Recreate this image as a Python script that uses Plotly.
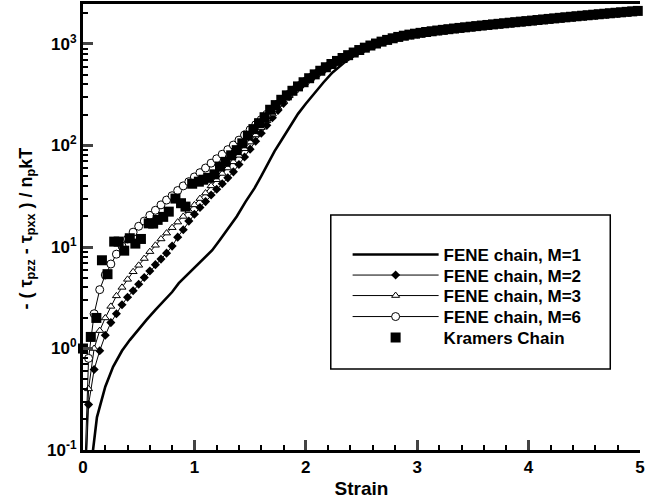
import plotly.graph_objects as go

# ---------------- data ----------------
strain_grid = [round(0.05 * i, 2) for i in range(101)]

fene_m2 = [
    0.01, 0.28, 0.62, 0.95, 1.35, 1.8, 2.2, 2.7, 3.2, 3.7,
    4.3, 5.0, 5.8, 6.7, 7.6, 8.7, 10.2, 12.5, 14.8, 18.0,
    21, 24.5, 28, 32.5, 37, 42, 48, 55, 65, 77,
    92, 110, 132, 158, 188, 222, 260, 302, 346, 392,
    438, 482, 527, 572, 617, 662, 707, 752, 797, 842,
    886, 930, 973, 1015, 1056, 1096, 1134, 1170, 1202, 1231,
    1255, 1279, 1302, 1324, 1345, 1366, 1387, 1407, 1427, 1447,
    1467, 1487, 1507, 1527, 1546, 1565, 1585, 1605, 1624, 1643,
    1662, 1684, 1706, 1728, 1750, 1772, 1794, 1816, 1838, 1860,
    1882, 1904, 1926, 1948, 1970, 1992, 2014, 2036, 2058, 2080,
    2100,
]

fene_m3 = [
    0.01, 0.4, 1.0, 1.5, 2.0, 2.6, 3.3, 4.0, 4.8, 5.7,
    6.6, 7.7, 9.0, 10.4, 12.0, 13.7, 15.5, 17.6, 20.0, 22.8,
    26, 30, 34, 40, 46, 53, 60, 69, 80, 93,
    108, 127, 150, 175, 204, 236, 272, 310, 350, 392,
    435, 478, 522, 566, 610, 655, 700, 746, 792, 838,
    884, 928, 972, 1015, 1057, 1098, 1138, 1174, 1206, 1235,
    1260, 1284, 1307, 1329, 1350, 1371, 1392, 1412, 1432, 1452,
    1472, 1492, 1512, 1532, 1552, 1572, 1592, 1612, 1631, 1650,
    1670, 1692, 1714, 1736, 1758, 1780, 1802, 1824, 1846, 1868,
    1890, 1912, 1934, 1956, 1978, 2000, 2022, 2044, 2066, 2088,
    2110,
]

fene_m6 = [
    0.02, 0.8, 2.2, 3.8, 5.3, 6.8, 8.5, 10.2, 12.0, 14.0,
    16.0, 18.0, 20.5, 23, 26, 29, 32, 36, 40, 44,
    49, 54, 60, 67, 74, 82, 91, 101, 113, 127,
    143, 160, 180, 203, 228, 256, 287, 320, 355, 392,
    430, 470, 512, 555, 600, 645, 692, 740, 788, 836,
    884, 930, 975, 1020, 1062, 1105, 1145, 1180, 1212, 1240,
    1265, 1290, 1313, 1335, 1357, 1378, 1399, 1420, 1440, 1460,
    1480, 1500, 1520, 1540, 1560, 1580, 1600, 1620, 1640, 1660,
    1680, 1702, 1724, 1746, 1768, 1790, 1812, 1834, 1856, 1878,
    1900, 1922, 1944, 1966, 1988, 2010, 2032, 2054, 2076, 2098,
    2120,
]

fene_m1_strain = [
    0.07, 0.09, 0.125, 0.2, 0.27, 0.35, 0.42, 0.5, 0.57, 0.65,
    0.72, 0.8, 0.86, 0.95, 1.04, 1.1, 1.16, 1.23, 1.3, 1.38,
    1.46, 1.54, 1.6, 1.66, 1.72, 1.78, 1.85, 1.93, 2.0, 2.08,
    2.16, 2.24, 2.34, 2.45, 2.6, 2.8, 3.0, 3.25, 3.5, 3.75,
    4.0, 4.25, 4.5, 4.75, 5.0,
]
fene_m1 = [
    0.05, 0.1, 0.21, 0.42, 0.66, 0.95, 1.21, 1.55, 1.91, 2.4,
    2.89, 3.6, 4.4, 5.5, 6.8, 7.9, 9.3, 11.8, 15.0, 20,
    28, 38, 50, 66, 88, 112, 148, 205, 258, 330,
    420, 525, 650, 790, 960, 1130, 1260, 1380, 1480, 1580,
    1680, 1790, 1900, 2010, 2120,
]

kramers_strain = [
    0.0, 0.07, 0.12, 0.17, 0.22, 0.28, 0.32, 0.37, 0.42, 0.47,
    0.52, 0.59, 0.63, 0.67, 0.72, 0.77, 0.83, 0.88, 0.92, 0.98,
    1.04, 1.08, 1.13, 1.18, 1.23, 1.28, 1.33, 1.38, 1.43, 1.48,
    1.53, 1.58, 1.63, 1.68, 1.73, 1.78, 1.83, 1.88, 1.93, 1.98,
    2.03, 2.08, 2.13, 2.18, 2.23, 2.28, 2.33, 2.38, 2.43, 2.48,
    2.53, 2.58, 2.63, 2.68, 2.73, 2.78, 2.83, 2.88, 2.93, 2.98,
    3.03, 3.08, 3.13, 3.18, 3.23, 3.28, 3.33, 3.38, 3.43, 3.48,
    3.53, 3.58, 3.63, 3.68, 3.73, 3.78, 3.83, 3.88, 3.93, 3.98,
    4.03, 4.08, 4.13, 4.18, 4.23, 4.28, 4.33, 4.38, 4.43, 4.48,
    4.53, 4.58, 4.63, 4.68, 4.73, 4.78, 4.83, 4.88, 4.93, 4.98,
]
kramers = [
    1.0, 1.3, 2.0, 7.4, 5.4, 11.3, 11.3, 9.2, 12.2, 10.8,
    12.0, 17.1, 17.0, 18.5, 19.8, 22.3, 30, 27, 25, 42,
    44, 46, 48, 52, 62, 69, 80, 90, 105, 125,
    145, 166, 190, 225, 250, 282, 312, 346, 382, 420,
    460, 502, 545, 590, 635, 681, 728, 776, 824, 872,
    920, 966, 1011, 1055, 1097, 1138, 1174, 1207, 1237, 1263,
    1288, 1312, 1335, 1357, 1378, 1399, 1420, 1440, 1460, 1480,
    1500, 1520, 1540, 1560, 1580, 1600, 1620, 1640, 1660, 1680,
    1700, 1722, 1744, 1766, 1788, 1810, 1832, 1854, 1876, 1898,
    1920, 1942, 1964, 1986, 2008, 2030, 2052, 2074, 2096, 2118,
]

y_tick_vals = [0.1, 1, 10, 100, 1000]
y_tick_text = ["10<sup>-1</sup>", "10<sup>0</sup>", "10<sup>1</sup>", "10<sup>2</sup>", "10<sup>3</sup>"]
x_tick_vals = [0, 1, 2, 3, 4, 5]

names = ["FENE chain, M=1", "FENE chain, M=2", "FENE chain, M=3", "FENE chain, M=6", "Kramers Chain"]
y_title = "- ( τ<sub>pzz</sub> - τ<sub>pxx</sub> ) / n<sub>p</sub>kT"
x_title = "Strain"

# ---------------- figure ----------------
FONT = "Liberation Sans, Arial, Helvetica, sans-serif"
W, H = 645, 501
ML, MR, MT, MB = 83, 0, 4, 51
PW, PH = W - ML - MR, H - MT - MB


def px_x(px):
    return (px - ML) / PW


def px_y(py):
    return (H - MB - py) / PH


fig = go.Figure()

fig.add_trace(go.Scatter(x=fene_m1_strain, y=fene_m1, mode="lines", name=names[0],
                         legend="legend",
                         line=dict(color="black", width=2.6)))
fig.add_trace(go.Scatter(x=strain_grid, y=fene_m2, mode="lines+markers", name=names[1],
                         legend="legend2",
                         line=dict(color="black", width=1),
                         marker=dict(symbol="diamond", size=7, color="black")))
fig.add_trace(go.Scatter(x=strain_grid, y=fene_m3, mode="lines+markers", name=names[2],
                         legend="legend3",
                         line=dict(color="black", width=1),
                         marker=dict(symbol="triangle-up", size=7, color="white",
                                     line=dict(color="black", width=1))))
fig.add_trace(go.Scatter(x=strain_grid, y=fene_m6, mode="lines+markers", name=names[3],
                         legend="legend4",
                         line=dict(color="black", width=1),
                         marker=dict(symbol="circle", size=8, color="white",
                                     line=dict(color="black", width=1))))
fig.add_trace(go.Scatter(x=kramers_strain, y=kramers, mode="markers", name=names[4],
                         legend="legend5", cliponaxis=False,
                         marker=dict(symbol="square", size=10, color="black")))

minor_y = [m * 10 ** e for e in range(-1, 4) for m in range(2, 10)]

legend_rows = [255, 275.5, 296, 317, 338]
legend_font = dict(family=FONT, size=17, color="black", weight="bold")
legend_common = dict(x=px_x(350), xanchor="left", yanchor="middle",
                     bgcolor="rgba(0,0,0,0)", borderwidth=0,
                     font=legend_font, itemwidth=86)

layout_legends = {}
for i, row in enumerate(legend_rows):
    key = "legend" if i == 0 else f"legend{i + 1}"
    layout_legends[key] = dict(y=px_y(row), **legend_common)

fig.update_layout(
    width=W, height=H,
    margin=dict(l=ML, r=MR, t=MT, b=MB),
    paper_bgcolor="white", plot_bgcolor="white",
    font=dict(family=FONT, size=16, color="black", weight="bold"),
    showlegend=True,
    shapes=[dict(type="rect", xref="paper", yref="paper",
                 x0=px_x(333), x1=px_x(615), y0=px_y(369), y1=px_y(215),
                 line=dict(color="black", width=1.5), fillcolor="rgba(0,0,0,0)",
                 layer="above")],
    annotations=[dict(text=y_title, textangle=-90, xref="paper", yref="paper",
                      x=px_x(26), y=px_y(229), xanchor="center", yanchor="middle",
                      showarrow=False,
                      font=dict(family=FONT, size=18, color="black", weight="bold"))],
    **layout_legends,
)

fig.update_xaxes(
    range=[0, 5], tickvals=x_tick_vals, ticks="inside", ticklen=10, tickwidth=3,
    showline=True, linecolor="black", linewidth=3, mirror=True,
    showgrid=False, zeroline=False, ticklabeloverflow="allow",
    tickfont=dict(family=FONT, size=17, color="black", weight="bold"),
    title=dict(text=x_title, font=dict(family=FONT, size=19, color="black", weight="bold"), standoff=6),
    minor=dict(dtick=0.2, ticks="inside", ticklen=5, tickwidth=1.5, tickcolor="black", showgrid=False),
)
fig.update_yaxes(
    type="log", range=[-1, 3.394], tickvals=y_tick_vals, ticktext=y_tick_text,
    ticks="inside", ticklen=10, tickwidth=3,
    showline=True, linecolor="black", linewidth=3,
    showgrid=False, zeroline=False,
    tickfont=dict(family=FONT, size=17, color="black", weight="bold"),
    minor=dict(tickvals=minor_y, ticks="inside", ticklen=5, tickwidth=1.5, tickcolor="black", showgrid=False),
)

fig.write_html("out.html", config={"displayModeBar": False},
               post_script="document.body.style.margin='0px';")
